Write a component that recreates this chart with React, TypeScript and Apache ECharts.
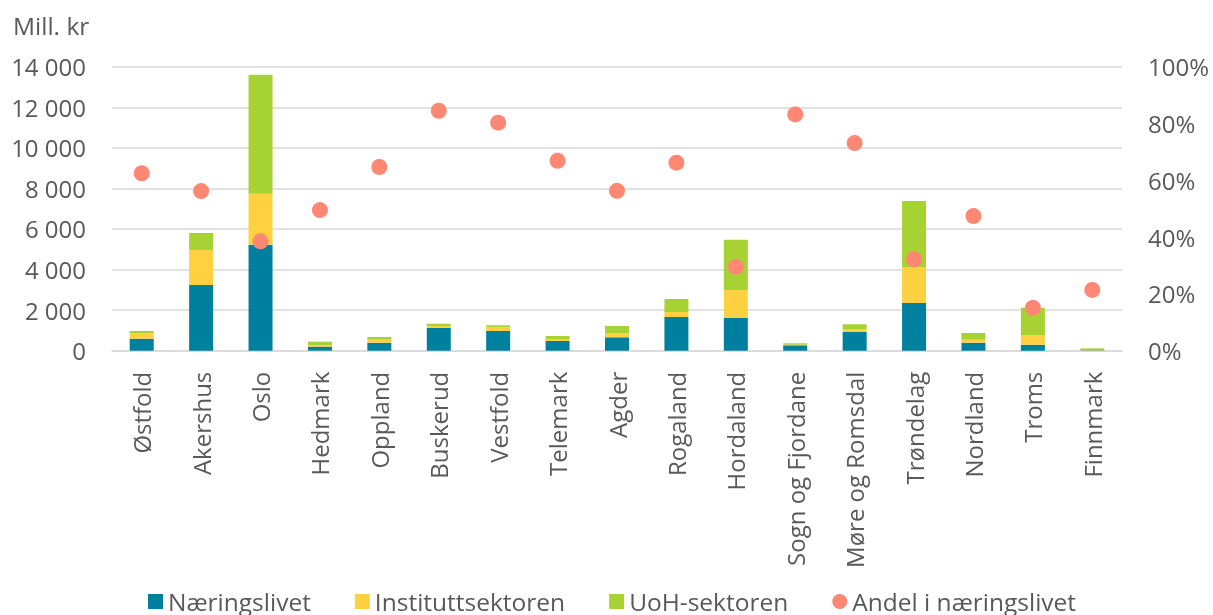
import React, { useEffect, useRef } from "react";
import * as echarts from "echarts";

const categories = [
  "Østfold", "Akershus", "Oslo", "Hedmark", "Oppland", "Buskerud", "Vestfold",
  "Telemark", "Agder", "Rogaland", "Hordaland", "Sogn og Fjordane",
  "Møre og Romsdal", "Trøndelag", "Nordland", "Troms", "Finnmark",
];
const naeringslivet = [592, 3240, 5226, 200, 394, 1134, 971, 478, 661, 1661, 1627, 266, 922, 2352, 394, 296, 20];
const instituttsektoren = [281, 1726, 2514, 81, 148, 84, 197, 99, 197, 247, 1365, 30, 148, 1774, 148, 478, 15];
const uohSektoren = [98, 838, 5867, 163, 133, 113, 84, 148, 360, 641, 2480, 69, 232, 3254, 331, 1346, 80];
const andelNaeringslivet = [62.5, 56.2, 38.5, 49.5, 64.7, 84.5, 80.3, 66.9, 56.3, 66.2, 29.5, 83.2, 73.1, 32.2, 47.4, 15.1, 21.4];
const leftTicks = { min: 0, max: 14000, interval: 2000 };
const rightTicks = { min: 0, max: 100, interval: 20 };

const FONT = "'Open Sans', sans-serif";
const GREY = "#595959";

export default function App() {
  const ref = useRef<HTMLDivElement>(null);
  useEffect(() => {
    if (!ref.current) return;
    const chart = echarts.init(ref.current, null, { renderer: "svg" });
    const fmt = (v: number) => String(v).replace(/\B(?=(\d{3})+(?!\d))/g, " ");
    chart.setOption({
      animation: false,
      textStyle: { fontFamily: FONT },
      grid: { left: 112, right: 91, top: 66.7, bottom: 264.3, containLabel: false },
      graphic: [
        {
          type: "text",
          left: 13,
          top: 13,
          style: { text: "Mill. kr", fontSize: 24.5, fontFamily: FONT, fill: GREY },
        },
      ],
      legend: {
        left: 148,
        top: 589,
        padding: 0,
        itemWidth: 15,
        itemHeight: 15,
        itemGap: 44,
        textStyle: { fontSize: 24.5, color: GREY, fontFamily: FONT, lineHeight: 24 },
        data: [
          { name: "Næringslivet", icon: "rect" },
          { name: "Instituttsektoren", icon: "rect" },
          { name: "UoH-sektoren", icon: "rect" },
          { name: "Andel i næringslivet", icon: "circle" },
        ],
      },
      xAxis: {
        type: "category",
        data: categories,
        axisLine: { lineStyle: { color: "#D9D9D9", width: 1.5 } },
        axisTick: { show: false },
        axisLabel: { rotate: 90, fontSize: 24, color: GREY, fontFamily: FONT, margin: 21, interval: 0 },
      },
      yAxis: [
        {
          type: "value",
          ...leftTicks,
          axisLine: { show: false },
          axisTick: { show: false },
          splitLine: { lineStyle: { color: "#D9D9D9", width: 1.5 } },
          axisLabel: { fontSize: 24, color: GREY, fontFamily: FONT, margin: 26, formatter: fmt },
        },
        {
          type: "value",
          ...rightTicks,
          position: "right",
          axisLine: { show: false },
          axisTick: { show: false },
          splitLine: { show: false },
          axisLabel: { fontSize: 24, color: GREY, fontFamily: FONT, margin: 26, formatter: "{value}%" },
        },
      ],
      series: [
        { name: "Næringslivet", type: "bar", stack: "s", barWidth: 24, data: naeringslivet, itemStyle: { color: "#00809F" } },
        { name: "Instituttsektoren", type: "bar", stack: "s", barWidth: 24, data: instituttsektoren, itemStyle: { color: "#FFD040" } },
        { name: "UoH-sektoren", type: "bar", stack: "s", barWidth: 24, data: uohSektoren, itemStyle: { color: "#A6D233" } },
        {
          name: "Andel i næringslivet",
          type: "scatter",
          yAxisIndex: 1,
          symbol: "circle",
          symbolSize: 16,
          z: 5,
          data: andelNaeringslivet,
          itemStyle: { color: "#FF8874", opacity: 1 },
        },
      ],
    });
    return () => chart.dispose();
  }, []);
  return <div ref={ref} style={{ position: "fixed", left: 0, top: 0, width: 1213, height: 615 }} />;
}
